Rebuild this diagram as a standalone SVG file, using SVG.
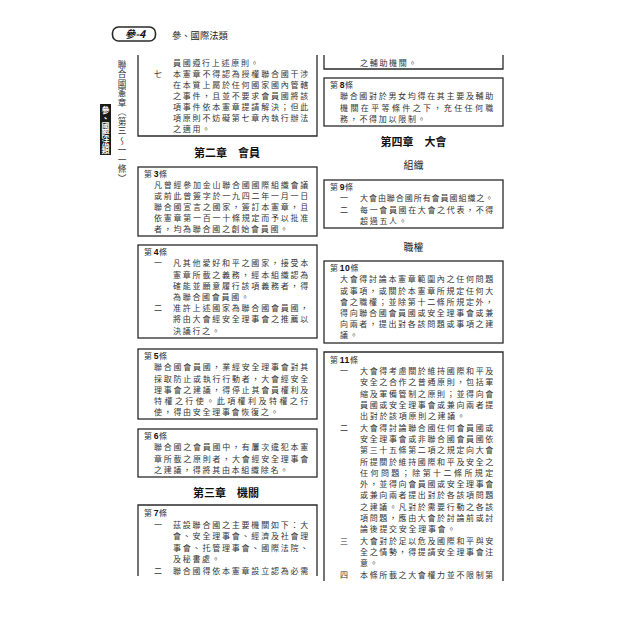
<svg xmlns="http://www.w3.org/2000/svg" width="640" height="640" viewBox="0 0 640 640">
<style>
.bg{fill:#fff}
.bx{fill:none;stroke:#2a2a2a;stroke-width:1.3}
.t{font-family:"Noto Sans CJK TC","Noto Sans CJK SC",sans-serif;font-size:8px;letter-spacing:1.7px;fill:#333}
.d{font-family:"Liberation Sans",Arial,sans-serif;font-weight:bold;font-size:8.6px;letter-spacing:0.6px;fill:#111}
.h{font-family:"Noto Sans CJK TC","Noto Sans CJK SC",sans-serif;font-size:11px;font-weight:bold;fill:#111;text-anchor:middle}
.s{font-family:"Noto Sans CJK TC","Noto Sans CJK SC",sans-serif;font-size:10px;fill:#222;text-anchor:middle}
</style>
<rect class="bg" x="0" y="0" width="640" height="640"/>

<g id="page-header">
<rect x="112.5" y="27" width="43" height="14" rx="6" fill="none" stroke="#2a2a2a" stroke-width="1.6"/>
<text x="135" y="38" text-anchor="middle" font-family="Noto Sans CJK TC, sans-serif" font-size="10.5" font-weight="bold" font-style="italic" fill="#111">參-4</text>
<text x="172" y="38.5" font-family="Noto Sans CJK TC, sans-serif" font-size="9.3" fill="#222">參、國際法類</text>
</g>

<g id="side-tab">
<rect x="100" y="104" width="11" height="51" fill="#1a1a1a"/>
<text x="105.5" y="106" style="writing-mode:vertical-rl" font-family="Noto Sans CJK TC, sans-serif" font-size="8" font-weight="bold" fill="#fff">參、國際法類</text>
<text x="122" y="60" style="writing-mode:vertical-rl" font-family="Noto Sans CJK TC, sans-serif" font-size="8.6" letter-spacing="0.9" fill="#333">聯合國憲章（第三～一一條）</text>
</g>

<g id="art2-cont">
<path class="bx" d="M138,55 V136 H317 V55"/>
<text class="t" x="173" y="66.1">員國遵行上述原則。</text>
<text class="t" x="154" y="77.1">七</text>
<text class="t" x="173" y="77.1" textLength="137" lengthAdjust="spacing">本憲章不得認為授權聯合國干涉</text>
<text class="t" x="173" y="88.1" textLength="137" lengthAdjust="spacing">在本質上屬於任何國家國內管轄</text>
<text class="t" x="173" y="99.1" textLength="137" lengthAdjust="spacing">之事件，且並不要求會員國將該</text>
<text class="t" x="173" y="110.1" textLength="137" lengthAdjust="spacing">項事件依本憲章提請解決；但此</text>
<text class="t" x="173" y="121.1" textLength="137" lengthAdjust="spacing">項原則不妨礙第七章內執行辦法</text>
<text class="t" x="173" y="132.1">之適用。</text>
</g>

<g id="chap2"><text class="h" x="227" y="157">第二章　會員</text></g>

<g id="art3">
<rect class="bx" x="138" y="167" width="179" height="69"/>
<text class="t" x="144" y="177.1">第<tspan class="d">3</tspan>條</text>
<text class="t" x="154" y="188.1" textLength="156" lengthAdjust="spacing">凡曾經參加金山聯合國國際組織會議</text>
<text class="t" x="154" y="199.1" textLength="156" lengthAdjust="spacing">或前此曾簽字於一九四二年一月一日</text>
<text class="t" x="154" y="210.1" textLength="156" lengthAdjust="spacing">聯合國宣言之國家，簽訂本憲章，且</text>
<text class="t" x="154" y="221.1" textLength="156" lengthAdjust="spacing">依憲章第一百一十條規定而予以批准</text>
<text class="t" x="154" y="232.1">者，均為聯合國之創始會員國。</text>
</g>

<g id="art4">
<rect class="bx" x="138" y="245" width="179" height="93"/>
<text class="t" x="144" y="255.1">第<tspan class="d">4</tspan>條</text>
<text class="t" x="154" y="266.3">一</text>
<text class="t" x="173" y="266.3" textLength="137" lengthAdjust="spacing">凡其他愛好和平之國家，接受本</text>
<text class="t" x="173" y="277.5" textLength="137" lengthAdjust="spacing">憲章所載之義務，經本組織認為</text>
<text class="t" x="173" y="288.7" textLength="137" lengthAdjust="spacing">確能並願意履行該項義務者，得</text>
<text class="t" x="173" y="299.9">為聯合國會員國。</text>
<text class="t" x="154" y="311.1">二</text>
<text class="t" x="173" y="311.1" textLength="137" lengthAdjust="spacing">准許上述國家為聯合國會員國，</text>
<text class="t" x="173" y="322.3" textLength="137" lengthAdjust="spacing">將由大會經安全理事會之推薦以</text>
<text class="t" x="173" y="333.5">決議行之。</text>
</g>

<g id="art5">
<rect class="bx" x="138" y="349" width="179" height="70"/>
<text class="t" x="144" y="359.1">第<tspan class="d">5</tspan>條</text>
<text class="t" x="154" y="370.3" textLength="156" lengthAdjust="spacing">聯合國會員國，業經安全理事會對其</text>
<text class="t" x="154" y="381.5" textLength="156" lengthAdjust="spacing">採取防止或執行行動者，大會經安全</text>
<text class="t" x="154" y="392.7" textLength="156" lengthAdjust="spacing">理事會之建議，得停止其會員權利及</text>
<text class="t" x="154" y="403.9" textLength="156" lengthAdjust="spacing">特權之行使。此項權利及特權之行</text>
<text class="t" x="154" y="415.1">使，得由安全理事會恢復之。</text>
</g>

<g id="art6">
<rect class="bx" x="138" y="429" width="179" height="48"/>
<text class="t" x="144" y="439.1">第<tspan class="d">6</tspan>條</text>
<text class="t" x="154" y="450.3" textLength="156" lengthAdjust="spacing">聯合國之會員國中，有屢次違犯本憲</text>
<text class="t" x="154" y="461.5" textLength="156" lengthAdjust="spacing">章所載之原則者，大會經安全理事會</text>
<text class="t" x="154" y="472.7">之建議，得將其由本組織除名。</text>
</g>

<g id="chap3"><text class="h" x="226" y="497">第三章　機關</text></g>

<g id="art7">
<path class="bx" d="M138,576 V505 H317 V576"/>
<text class="t" x="144" y="516.1">第<tspan class="d">7</tspan>條</text>
<text class="t" x="154" y="527.6">一</text>
<text class="t" x="173" y="527.6" textLength="137" lengthAdjust="spacing">茲設聯合國之主要機關如下：大</text>
<text class="t" x="173" y="539.1" textLength="137" lengthAdjust="spacing">會、安全理事會、經濟及社會理</text>
<text class="t" x="173" y="550.6" textLength="137" lengthAdjust="spacing">事會、托管理事會、國際法院、</text>
<text class="t" x="173" y="562.1">及秘書處。</text>
<text class="t" x="154" y="573.6">二</text>
<text class="t" x="173" y="573.6" textLength="137" lengthAdjust="spacing">聯合國得依本憲章設立認為必需</text>
</g>

<g id="art7-cont">
<path class="bx" d="M324,55 V69 H503 V55"/>
<text class="t" x="360" y="66.1">之輔助機關。</text>
</g>

<g id="art8">
<rect class="bx" x="324" y="78" width="179" height="48"/>
<text class="t" x="330" y="88.1">第<tspan class="d">8</tspan>條</text>
<text class="t" x="340" y="99.3" textLength="155" lengthAdjust="spacing">聯合國對於男女均得在其主要及輔助</text>
<text class="t" x="340" y="110.5" textLength="155" lengthAdjust="spacing">機關在平等條件之下，充任任何職</text>
<text class="t" x="340" y="121.7">務，不得加以限制。</text>
</g>

<g id="chap4">
<text class="h" x="413.5" y="146">第四章　大會</text>
<text class="s" x="413.5" y="168.7">組織</text>
</g>

<g id="art9">
<rect class="bx" x="324" y="180" width="179" height="48"/>
<text class="t" x="330" y="190.1">第<tspan class="d">9</tspan>條</text>
<text class="t" x="340" y="201.3">一</text>
<text class="t" x="360" y="201.3" textLength="135" lengthAdjust="spacing">大會由聯合國所有會員國組織之。</text>
<text class="t" x="340" y="212.5">二</text>
<text class="t" x="360" y="212.5" textLength="135" lengthAdjust="spacing">每一會員國在大會之代表，不得</text>
<text class="t" x="360" y="223.7">超過五人。</text>
</g>

<g id="sec-powers"><text class="s" x="413.5" y="250.7">職權</text></g>

<g id="art10">
<rect class="bx" x="324" y="261" width="179" height="82"/>
<text class="t" x="330" y="271.1">第<tspan class="d">10</tspan>條</text>
<text class="t" x="340" y="282.3" textLength="155" lengthAdjust="spacing">大會得討論本憲章範圍內之任何問題</text>
<text class="t" x="340" y="293.5" textLength="155" lengthAdjust="spacing">或事項，或關於本憲章所規定任何大</text>
<text class="t" x="340" y="304.7" textLength="155" lengthAdjust="spacing">會之職權；並除第十二條所規定外，</text>
<text class="t" x="340" y="315.9" textLength="155" lengthAdjust="spacing">得向聯合國會員國或安全理事會或兼</text>
<text class="t" x="340" y="327.1" textLength="155" lengthAdjust="spacing">向兩者，提出對各該問題或事項之建</text>
<text class="t" x="340" y="338.3">議。</text>
</g>

<g id="art11">
<path class="bx" d="M324,581 V352 H503 V581"/>
<text class="t" x="330" y="362.6">第<tspan class="d">11</tspan>條</text>
<text class="t" x="340" y="374.1">一</text>
<text class="t" x="360" y="374.1" textLength="135" lengthAdjust="spacing">大會得考慮關於維持國際和平及</text>
<text class="t" x="360" y="385.4" textLength="135" lengthAdjust="spacing">安全之合作之普通原則，包括軍</text>
<text class="t" x="360" y="396.7" textLength="135" lengthAdjust="spacing">縮及軍備管制之原則；並得向會</text>
<text class="t" x="360" y="408.0" textLength="135" lengthAdjust="spacing">員國或安全理事會或兼向兩者提</text>
<text class="t" x="360" y="419.3">出對於該項原則之建議。</text>
<text class="t" x="340" y="430.6">二</text>
<text class="t" x="360" y="430.6" textLength="135" lengthAdjust="spacing">大會得討論聯合國任何會員國或</text>
<text class="t" x="360" y="441.9" textLength="135" lengthAdjust="spacing">安全理事會或非聯合國會員國依</text>
<text class="t" x="360" y="453.2" textLength="135" lengthAdjust="spacing">第三十五條第二項之規定向大會</text>
<text class="t" x="360" y="464.5" textLength="135" lengthAdjust="spacing">所提關於維持國際和平及安全之</text>
<text class="t" x="360" y="475.8" textLength="135" lengthAdjust="spacing">任何問題；除第十二條所規定</text>
<text class="t" x="360" y="487.1" textLength="135" lengthAdjust="spacing">外，並得向會員國或安全理事會</text>
<text class="t" x="360" y="498.4" textLength="135" lengthAdjust="spacing">或兼向兩者提出對於各該項問題</text>
<text class="t" x="360" y="509.7" textLength="135" lengthAdjust="spacing">之建議。凡對於需要行動之各該</text>
<text class="t" x="360" y="521.0" textLength="135" lengthAdjust="spacing">項問題，應由大會於討論前或討</text>
<text class="t" x="360" y="532.3">論後提交安全理事會。</text>
<text class="t" x="340" y="543.6">三</text>
<text class="t" x="360" y="543.6" textLength="135" lengthAdjust="spacing">大會對於足以危及國際和平與安</text>
<text class="t" x="360" y="554.9" textLength="135" lengthAdjust="spacing">全之情勢，得提請安全理事會注</text>
<text class="t" x="360" y="566.2">意。</text>
<text class="t" x="340" y="577.5">四</text>
<text class="t" x="360" y="577.5" textLength="135" lengthAdjust="spacing">本條所載之大會權力並不限制第</text>
</g>
</svg>
